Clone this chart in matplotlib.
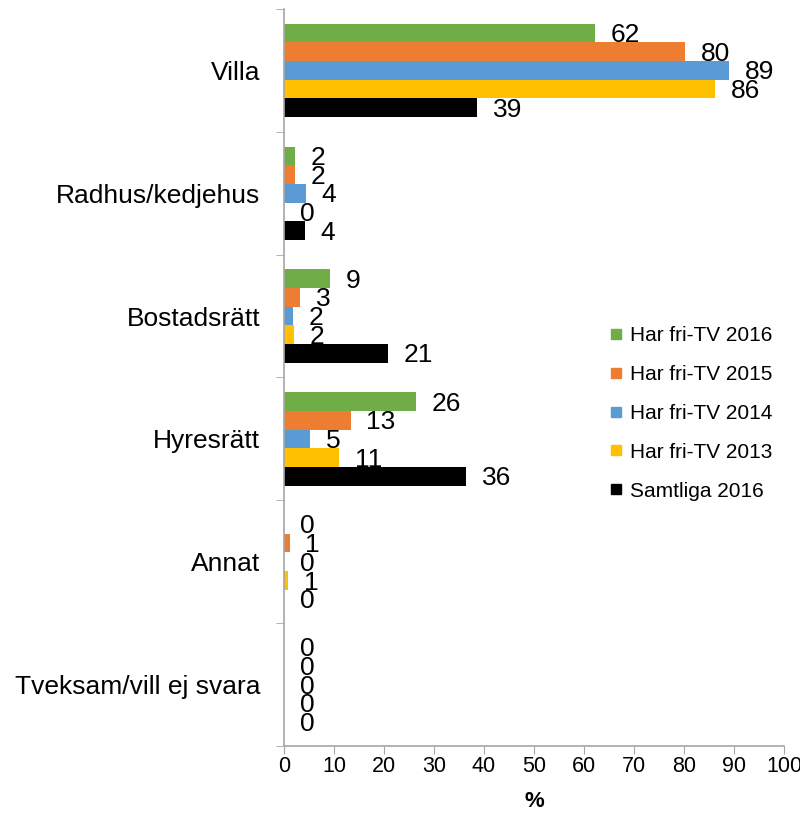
import numpy as np
import matplotlib.pyplot as plt
from matplotlib.lines import Line2D

plt.rcParams['font.family'] = ['Liberation Sans', 'DejaVu Sans']

categories = ["Villa", "Radhus/kedjehus", "Bostadsrätt", "Hyresrätt", "Annat",
              "Tveksam/vill ej svara"]
series_names = ["Har fri-TV 2016", "Har fri-TV 2015", "Har fri-TV 2014",
                "Har fri-TV 2013", "Samtliga 2016"]
colors = ["#70AD47", "#ED7D31", "#5B9BD5", "#FFC000", "#000000"]

# bar lengths; labels shown rounded
fri2016 = [62.2, 2.1, 9.2, 26.4, 0.0, 0.0]
fri2015 = [80.2, 2.1, 3.2, 13.3, 1.1, 0.0]
fri2014 = [88.9, 4.3, 1.7, 5.2, 0.0, 0.0]
fri2013 = [86.2, 0.0, 1.9, 11.0, 0.8, 0.0]
samtliga = [38.6, 4.1, 20.7, 36.4, 0.0, 0.0]
values = [fri2016, fri2015, fri2014, fri2013, samtliga]

fig = plt.figure(figsize=(8.0, 8.14), dpi=100)
ax = fig.add_axes([0.355, 0.0835, 0.625, 0.9055])

n_cat = len(categories)
ypos = np.arange(n_cat)[::-1]
h = 0.152

for j, (vals, col, name) in enumerate(zip(values, colors, series_names)):
    y = ypos + (2 - j) * h
    ax.barh(y, vals, height=h, color=col, label=name)
    for yy, v in zip(y, vals):
        ax.annotate(f"{v:.0f}", xy=(v, yy), xytext=(11.5, -1.5), textcoords="offset points",
                    ha="left", va="center", fontsize=19, color="black")

ax.set_xlim(0, 100)
ax.set_ylim(-0.5, n_cat - 0.5)
ax.set_xticks(np.arange(0, 101, 10))
ax.set_yticks(ypos)
ax.set_yticklabels(categories, fontsize=19)
ax.set_yticks(np.arange(-0.5, n_cat, 1.0), minor=True)
ax.tick_params(axis="y", which="major", length=0, pad=17)
ax.tick_params(axis="y", which="minor", length=6, color="#A6A6A6", direction="out")
ax.tick_params(axis="x", length=6, color="#A6A6A6", labelsize=15.5, pad=1)
ax.set_xlabel("%", fontsize=16, fontweight="bold", labelpad=10)

for s in ["top", "right"]:
    ax.spines[s].set_visible(False)
for s in ["left", "bottom"]:
    ax.spines[s].set_color("#A6A6A6")
    ax.spines[s].set_linewidth(1.2)

handles = [Line2D([], [], marker="s", linestyle="none", markersize=7.5,
                  markerfacecolor=c, markeredgecolor=c) for c in colors]
fig.legend(handles, series_names, loc="upper left", bbox_to_anchor=(0.761, 0.599),
           frameon=False, fontsize=15, handlelength=0.7, handletextpad=0.3,
           labelspacing=0.95, borderpad=0, borderaxespad=0)

fig.savefig("out.png", dpi=100)
